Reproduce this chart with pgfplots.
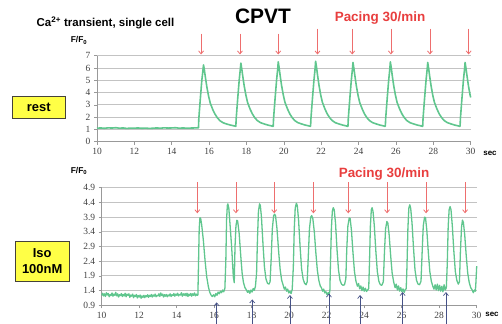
\documentclass[border=0pt]{standalone}
\usepackage{pgfplots}
\pgfplotsset{compat=1.18}
\usetikzlibrary{arrows.meta}
\usepackage{fontspec}
\setmainfont{Liberation Sans}
\newfontfamily\tickfont{Liberation Serif}
\definecolor{trace}{RGB}{96,198,142}
\definecolor{pace}{RGB}{238,110,110}
\definecolor{paceText}{RGB}{232,62,62}
\definecolor{blueArr}{RGB}{70,82,135}
\definecolor{boxYellow}{RGB}{255,255,70}
\definecolor{gridgray}{RGB}{195,195,195}
\pgfplotsset{
  common/.style={
    scale only axis, xmin=10, xmax=30,
    axis x line*=bottom, axis y line*=left, clip=false,
    xtick={10,12,...,30},
    ymajorgrids, major grid style={gridgray, line width=0.9bp},
    axis line style={black!40, line width=0.7bp},
    tick style={black!40, line width=0.6bp},
    tick align=outside, major tick length=3bp,
    ticklabel style={font=\tickfont\fontsize{9.5}{10}\selectfont, text=black!75},
    /pgf/number format/assume math mode=true,
  }
}
\begin{document}
\begin{tikzpicture}
\useasboundingbox (0bp,0bp) rectangle (502bp,-324bp);
% ---------------- top axis: rest ----------------
\begin{axis}[common, at={(97bp,-141.7bp)}, anchor=south west,
  width=373.7bp, height=86bp, ymin=0, ymax=7, ytick={0,1,...,7}]
\addplot[trace, line width=1.6bp, line join=round] coordinates {
(10.0,1.10)(10.2,1.12)(10.4,1.09)(10.6,1.13)(10.8,1.11)(11.0,1.14)(11.2,1.10)(11.4,1.12)(11.6,1.08)(11.8,1.11)
(12.0,1.10)(12.2,1.12)(12.4,1.09)(12.6,1.11)(12.8,1.08)(13.0,1.10)(13.2,1.12)(13.4,1.10)(13.6,1.13)(13.8,1.11)
(14.0,1.12)(14.2,1.14)(14.4,1.10)(14.6,1.12)(14.8,1.10)(15.0,1.11)(15.2,1.12)(15.42,1.12)
(15.43,1.12)(15.45,1.9)(15.53,3.5)(15.61,5.0)(15.67,5.8)(15.70,6.25)(15.75,5.8)(15.80,5.25)(15.88,4.45)(15.97,3.72)
(16.06,3.15)(16.20,2.6)(16.32,2.23)(16.45,1.93)(16.58,1.71)(16.75,1.54)(16.94,1.44)(17.15,1.35)(17.30,1.3)(17.42,1.26)
(17.43,1.24)(17.45,1.9)(17.53,3.5)(17.61,5.0)(17.67,5.9)(17.70,6.4)(17.75,5.9)(17.80,5.35)(17.88,4.52)(17.97,3.78)
(18.06,3.18)(18.20,2.63)(18.32,2.25)(18.45,1.94)(18.58,1.72)(18.75,1.55)(18.94,1.45)(19.15,1.35)(19.30,1.3)(19.42,1.25)
(19.43,1.25)(19.45,1.9)(19.53,3.5)(19.61,5.0)(19.67,5.9)(19.70,6.5)(19.75,6.0)(19.80,5.4)(19.88,4.56)(19.97,3.8)
(20.06,3.2)(20.20,2.65)(20.32,2.26)(20.45,1.95)(20.58,1.72)(20.75,1.55)(20.94,1.45)(21.15,1.35)(21.30,1.3)(21.42,1.25)
(21.43,1.25)(21.45,1.9)(21.53,3.5)(21.61,5.0)(21.67,5.9)(21.70,6.55)(21.75,6.05)(21.80,5.45)(21.88,4.6)(21.97,3.82)
(22.06,3.22)(22.20,2.66)(22.32,2.27)(22.45,1.96)(22.58,1.73)(22.75,1.55)(22.94,1.45)(23.15,1.35)(23.30,1.3)(23.42,1.25)
(23.43,1.25)(23.45,1.9)(23.53,3.5)(23.61,5.0)(23.67,5.9)(23.70,6.45)(23.75,5.95)(23.80,5.38)(23.88,4.54)(23.97,3.78)
(24.06,3.19)(24.20,2.64)(24.32,2.25)(24.45,1.95)(24.58,1.72)(24.75,1.55)(24.94,1.45)(25.15,1.35)(25.30,1.3)(25.42,1.25)
(25.43,1.25)(25.45,1.9)(25.53,3.5)(25.61,5.0)(25.67,5.9)(25.70,6.5)(25.75,6.0)(25.80,5.4)(25.88,4.56)(25.97,3.8)
(26.06,3.2)(26.20,2.65)(26.32,2.26)(26.45,1.95)(26.58,1.72)(26.75,1.55)(26.94,1.45)(27.15,1.35)(27.30,1.3)(27.42,1.25)
(27.43,1.25)(27.45,1.9)(27.53,3.5)(27.61,5.0)(27.67,5.9)(27.70,6.45)(27.75,5.95)(27.80,5.38)(27.88,4.54)(27.97,3.78)
(28.06,3.19)(28.20,2.64)(28.32,2.25)(28.45,1.95)(28.58,1.72)(28.75,1.55)(28.94,1.45)(29.15,1.35)(29.30,1.3)(29.42,1.25)
(29.43,1.25)(29.45,1.9)(29.53,3.5)(29.61,5.0)(29.67,5.9)(29.70,6.45)(29.75,5.95)(29.80,5.38)(29.88,4.54)(29.97,3.78)(30.0,3.6)
};
\foreach \t/\s in {15.57/8.8,17.65/8.8,19.7/8.8,21.8/9.2,23.66/9.2,25.73/9.2,27.82/9.2,29.89/9.2}{
  \edef\tmp{\noexpand\draw[pace, line width=0.8bp, -{Straight Barb[length=3bp,width=5bp]}] (axis cs:\t,\s) -- (axis cs:\t,7.1);}\tmp
}
\end{axis}
% ---------------- bottom axis: Iso ----------------
\begin{axis}[common, at={(101.7bp,-305.3bp)}, anchor=south west,
  width=375bp, height=117.6bp, ymin=0.9, ymax=4.9,
  ytick={0.9,1.4,1.9,2.4,2.9,3.4,3.9,4.4,4.9},
  yticklabels={0.9,1.4,1.9,2.4,2.9,3.4,3.9,4.4,4.9}]
\addplot[trace, line width=1.3bp, line join=round] coordinates {
(10.00,1.24)(10.05,1.31)(10.10,1.22)(10.15,1.29)(10.20,1.20)(10.25,1.33)(10.30,1.25)(10.35,1.30)(10.40,1.19)(10.45,1.27)
(10.50,1.23)(10.55,1.32)(10.60,1.21)(10.65,1.28)(10.70,1.24)(10.75,1.34)(10.80,1.22)(10.85,1.29)(10.90,1.18)(10.95,1.26)
(11.00,1.23)(11.05,1.30)(11.10,1.20)(11.15,1.27)(11.20,1.22)(11.25,1.31)(11.30,1.19)(11.35,1.28)(11.40,1.24)(11.45,1.29)
(11.50,1.17)(11.55,1.25)(11.60,1.21)(11.65,1.28)(11.70,1.16)(11.75,1.24)(11.80,1.20)(11.85,1.27)(11.90,1.15)(11.95,1.23)
(12.00,1.18)(12.05,1.25)(12.10,1.14)(12.15,1.22)(12.20,1.17)(12.25,1.24)(12.30,1.16)(12.35,1.23)(12.40,1.19)(12.45,1.26)
(12.50,1.17)(12.55,1.24)(12.60,1.20)(12.65,1.27)(12.70,1.18)(12.75,1.25)(12.80,1.21)(12.85,1.28)(12.90,1.19)(12.95,1.24)
(13.00,1.22)(13.05,1.29)(13.10,1.20)(13.15,1.32)(13.20,1.23)(13.25,1.28)(13.30,1.18)(13.35,1.26)(13.40,1.21)(13.45,1.27)
(13.50,1.19)(13.55,1.25)(13.60,1.22)(13.65,1.29)(13.70,1.20)(13.75,1.26)(13.80,1.23)(13.85,1.30)(13.90,1.21)(13.95,1.28)
(14.00,1.24)(14.05,1.31)(14.10,1.22)(14.15,1.27)(14.20,1.25)(14.25,1.33)(14.30,1.21)(14.35,1.29)(14.40,1.24)(14.45,1.30)
(14.50,1.22)(14.55,1.31)(14.60,1.20)(14.65,1.28)(14.70,1.23)(14.75,1.30)(14.80,1.21)(14.85,1.29)(14.90,1.24)(14.95,1.32)
(15.00,1.22)(15.05,1.28)(15.10,1.24)
(15.13,1.25)(15.16,2.2)(15.20,3.5)(15.24,3.88)(15.28,3.85)(15.33,3.65)(15.42,3.12)(15.51,2.44)(15.60,1.87)(15.69,1.53)
(15.76,1.35)(15.83,1.25)(15.90,1.2)(15.97,1.26)(16.03,1.19)(16.09,1.3)(16.15,1.24)(16.21,1.35)(16.27,1.29)(16.33,1.38)
(16.39,1.33)(16.45,1.42)(16.51,1.36)(16.57,1.48)
(16.62,2.4)(16.66,3.8)(16.70,4.3)(16.73,4.35)(16.78,4.2)(16.85,3.6)(16.93,2.89)(17.02,1.87)(17.07,1.67)
(17.11,2.9)(17.16,3.6)(17.21,3.79)(17.25,3.77)(17.33,3.35)(17.42,2.55)(17.49,1.99)(17.56,1.68)(17.64,1.5)(17.72,1.42)
(17.78,1.34)(17.84,1.4)(17.90,1.31)(17.96,1.42)(18.02,1.35)(18.08,1.47)(18.14,1.41)(18.20,1.55)
(18.26,2.0)(18.31,3.2)(18.36,4.1)(18.42,4.35)(18.46,4.3)(18.52,3.9)(18.60,3.0)(18.68,2.2)(18.76,1.8)(18.84,1.65)(18.92,1.62)(18.98,1.7)
(19.04,2.5)(19.10,3.5)(19.17,3.95)(19.22,4.0)(19.27,3.95)(19.35,3.5)(19.44,2.7)(19.52,2.1)(19.60,1.75)(19.68,1.58)
(19.74,1.45)(19.80,1.52)(19.86,1.38)(19.92,1.45)(19.98,1.32)(20.04,1.38)(20.10,1.3)(20.16,1.44)
(20.22,2.2)(20.27,3.5)(20.32,4.2)(20.38,4.37)(20.43,4.3)(20.50,3.8)(20.58,2.9)(20.66,2.15)(20.74,1.8)(20.82,1.65)(20.90,1.6)(20.96,1.7)
(21.02,2.6)(21.08,3.5)(21.15,3.9)(21.20,3.95)(21.26,3.85)(21.34,3.4)(21.42,2.7)(21.50,2.1)(21.58,1.75)(21.66,1.55)
(21.72,1.5)(21.78,1.38)(21.84,1.45)(21.90,1.32)(21.96,1.36)(22.02,1.26)(22.08,1.33)(22.14,1.29)(22.17,1.42)
(22.20,2.3)(22.25,3.5)(22.30,4.1)(22.35,4.22)(22.40,4.15)(22.47,3.7)(22.55,2.8)(22.63,2.1)(22.71,1.75)(22.79,1.62)(22.87,1.58)(22.95,1.6)(23.02,1.8)
(23.07,2.8)(23.13,3.6)(23.20,3.87)(23.25,3.85)(23.32,3.45)(23.40,2.7)(23.48,2.05)(23.56,1.72)(23.64,1.55)(23.70,1.64)
(23.76,1.46)(23.82,1.56)(23.88,1.4)(23.94,1.52)(24.00,1.38)(24.06,1.48)(24.12,1.37)(24.18,1.42)(24.24,1.47)
(24.28,2.3)(24.33,3.6)(24.38,4.15)(24.42,4.22)(24.47,4.1)(24.54,3.6)(24.62,2.75)(24.70,2.05)(24.78,1.72)(24.86,1.6)(24.94,1.58)(25.02,1.7)
(25.08,2.7)(25.14,3.5)(25.21,3.75)(25.26,3.7)(25.33,3.3)(25.41,2.6)(25.49,2.0)(25.57,1.7)(25.65,1.5)(25.71,1.62)
(25.77,1.42)(25.83,1.56)(25.89,1.38)(25.95,1.5)(26.01,1.36)(26.07,1.46)(26.13,1.34)(26.19,1.44)(26.24,1.46)
(26.28,2.2)(26.33,3.5)(26.38,4.2)(26.43,4.32)(26.48,4.2)(26.55,3.7)(26.63,2.85)(26.71,2.1)(26.79,1.75)(26.87,1.62)(26.95,1.6)(27.03,1.72)
(27.09,2.7)(27.15,3.6)(27.22,3.9)(27.27,3.88)(27.34,3.45)(27.42,2.7)(27.50,2.05)(27.58,1.72)(27.66,1.55)(27.72,1.45)
(27.78,1.6)(27.84,1.42)(27.90,1.62)(27.96,1.4)(28.02,1.58)(28.08,1.38)(28.14,1.55)(28.20,1.36)(28.26,1.6)(28.32,1.42)(28.38,1.5)
(28.43,2.3)(28.48,3.6)(28.53,4.15)(28.58,4.26)(28.63,4.15)(28.70,3.6)(28.78,2.75)(28.86,2.05)(28.94,1.75)(29.02,1.62)(29.08,1.7)
(29.13,2.7)(29.19,3.55)(29.24,3.8)(29.29,3.72)(29.36,3.3)(29.44,2.6)(29.52,2.0)(29.60,1.68)(29.68,1.5)(29.76,1.42)
(29.82,1.33)(29.88,1.42)(29.93,1.38)(29.96,1.7)(30.0,2.23)
};
\foreach \t in {15.1,17.16,19.2,21.29,23.15,25.22,27.3,29.38}{
  \edef\tmp{\noexpand\draw[pace, line width=0.8bp, -{Straight Barb[length=3bp,width=5bp]}] (axis cs:\t,5.08) -- (axis cs:\t,4.03);}\tmp
}
\foreach \t/\e in {16.13/1.0,18.03/1.1,20.04/1.25,22.12/1.3,23.78/1.25,26.05/1.35,28.36/1.35}{
  \edef\tmp{\noexpand\draw[blueArr, line width=0.7bp, -{Straight Barb[length=3bp,width=5bp]}] (axis cs:\t,0.26) -- (axis cs:\t,\e);}\tmp
}
\end{axis}
% ---------------- annotations ----------------
\node[font=\bfseries\fontsize{11.5}{13}\selectfont] at (105.5bp,-23bp) {Ca\textsuperscript{2+} transient, single cell};
\node[font=\bfseries\fontsize{21}{24}\selectfont] at (263bp,-16.5bp) {CPVT};
\node[font=\bfseries\fontsize{13.5}{15}\selectfont, text=paceText] at (380bp,-18.5bp) {Pacing 30/min};
\node[font=\bfseries\fontsize{13.5}{15}\selectfont, text=paceText] at (384bp,-174bp) {Pacing 30/min};
\node[font=\bfseries\fontsize{8.5}{9}\selectfont] at (79bp,-40.5bp) {F/F\textsubscript{0}};
\node[font=\bfseries\fontsize{8.5}{9}\selectfont] at (79bp,-171bp) {F/F\textsubscript{0}};
\node[font=\bfseries\fontsize{8}{9}\selectfont] at (490bp,-153.5bp) {sec};
\node[font=\bfseries\fontsize{8}{9}\selectfont] at (492bp,-314bp) {sec};
\draw[fill=boxYellow, draw=black!60!yellow!40!black, line width=0.7bp] (12.7bp,-96bp) rectangle (65bp,-118.3bp);
\node[font=\bfseries\fontsize{13}{15}\selectfont] at (38.8bp,-107.2bp) {rest};
\draw[fill=boxYellow, draw=black!60!yellow!40!black, line width=0.7bp] (15bp,-241bp) rectangle (69.3bp,-281.7bp);
\node[font=\bfseries\fontsize{13}{15}\selectfont, align=center] at (42.2bp,-261.3bp) {Iso\\[1bp]100nM};
\end{tikzpicture}
\end{document}
